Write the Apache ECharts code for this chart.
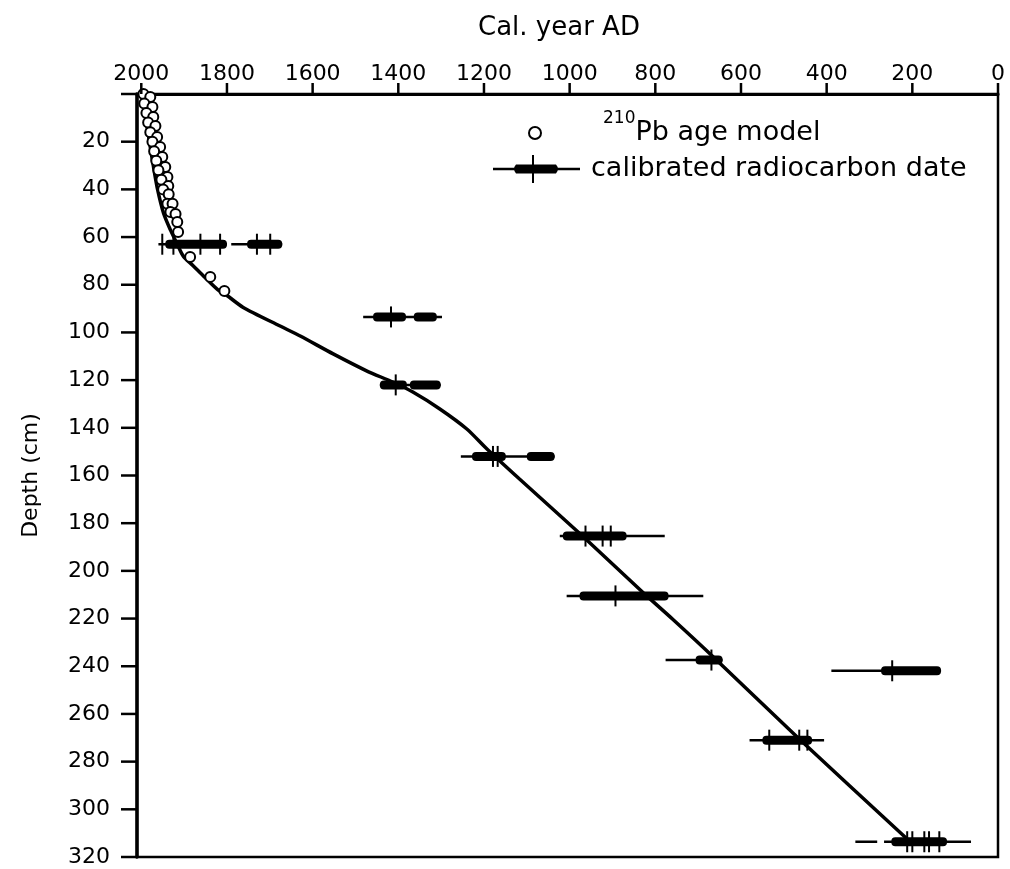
<!DOCTYPE html>
<html>
<head>
<meta charset="utf-8">
<script src="https://cdn.jsdelivr.net/npm/echarts@6/dist/echarts.min.js"></script>
<style>
  html, body { margin: 0; padding: 0; background: #fff; }
  #chart { width: 1010px; height: 869px; }
</style>
</head>
<body>
<div id="chart"></div>
<script>
// Axis tick labels
const yearTicks = [0, 200, 400, 600, 800, 1000, 1200, 1400, 1600, 1800, 2000];
const depthTicks = [20, 40, 60, 80, 100, 120, 140, 160, 180, 200, 220, 240, 260, 280, 300, 320];

// 210Pb age model points (depth in cm, calendar year AD)
const pbDepth = [0, 1.3, 4, 5.5, 8, 9.6, 12, 13.4, 16, 18, 20, 22.2, 24, 26.4, 28, 30.6, 32, 34.8, 36, 38.6, 40, 42, 46, 46, 49.5, 50.3, 53.7, 57.9, 68.4, 76.7, 82.6];
const pbYear  = [1995, 1979, 1993, 1974, 1988, 1972, 1984, 1967, 1979, 1963, 1974, 1956, 1970, 1951, 1965, 1944, 1960, 1939, 1953, 1937, 1949, 1936, 1939, 1927, 1932, 1920, 1916, 1914, 1886, 1839, 1806];

// Age-depth model curve
const modelDepth = [0, 10, 20, 30, 40, 50, 57, 63, 68, 72, 76.3, 81.8, 84.5, 89.5, 97.3, 101.5, 109, 116.2, 120.8, 125, 132.1, 140.5, 148.9, 161.5, 185.4, 210.5, 220.2, 235.7, 270.5, 313.3];
const modelYear  = [1998, 1990, 1981, 1972, 1962, 1948, 1932, 1916, 1902, 1879, 1855, 1823, 1800, 1762, 1676, 1629, 1552, 1473, 1413, 1366, 1303, 1240, 1193, 1117, 970, 820, 760, 667, 464, 207];

// Calibrated radiocarbon dates: sample depth, 2-sigma ranges, 1-sigma ranges, intercepts (cal. year AD)
const c14Depth = [63, 93.5, 122, 152, 185.4, 210.5, 237.4, 241.9, 271, 313.6];
const c14Range2s = [
  [[1960, 1800], [1790, 1671]],
  [[1482, 1298]],
  [[1443, 1301]],
  [[1254, 1035]],
  [[1023, 778]],
  [[1007, 688]],
  [[776, 643]],
  [[389, 133]],
  [[580, 406]],
  [[333, 282], [266, 63]]
];
const c14Range1s = [
  [[1944, 1800], [1753, 1671]],
  [[1459, 1382], [1364, 1310]],
  [[1443, 1380], [1373, 1301]],
  [[1228, 1149], [1100, 1035]],
  [[1016, 867]],
  [[977, 769]],
  [[706, 643]],
  [[273, 133]],
  [[550, 434]],
  [[249, 119]]
];
const c14Intercepts = [
  [1951, 1925, 1862, 1816, 1730, 1699],
  [1417],
  [1406],
  [1179, 1168],
  [963, 923, 904],
  [893],
  [669],
  [247],
  [534, 464, 445],
  [212, 200, 172, 161, 137]
];

const FONT = 'DejaVu Sans';
const PB_NAME = '210Pb age model';
const C14_NAME = 'calibrated radiocarbon date';
const YEAR_MAX = 2010;

const chart = echarts.init(document.getElementById('chart'), null, { renderer: 'canvas' });

function renderDate(params, api) {
  const i = params.dataIndex;
  const d = c14Depth[i];
  const children = [];
  c14Range2s[i].forEach(function (r) {
    const p1 = api.coord([r[0], d]);
    const p2 = api.coord([r[1], d]);
    children.push({
      type: 'line',
      shape: { x1: p1[0], y1: p1[1], x2: p2[0], y2: p2[1] },
      style: { stroke: '#000', lineWidth: 2.5 }
    });
  });
  c14Range1s[i].forEach(function (r) {
    const p1 = api.coord([r[0], d]);
    const p2 = api.coord([r[1], d]);
    const x = Math.min(p1[0], p2[0]);
    const w = Math.abs(p2[0] - p1[0]);
    children.push({
      type: 'rect',
      shape: { x: x, y: p1[1] - 4.5, width: w, height: 9, r: 4 },
      style: { fill: '#000' }
    });
  });
  c14Intercepts[i].forEach(function (t) {
    const p = api.coord([t, d]);
    children.push({
      type: 'line',
      shape: { x1: p[0], y1: p[1] - 10.5, x2: p[0], y2: p[1] + 10.5 },
      style: { stroke: '#000', lineWidth: 2 }
    });
  });
  return { type: 'group', children: children };
}

// Only the listed tick values get a label
function tickLabel(list) {
  return function (v) { return list.indexOf(v) >= 0 ? String(v) : ''; };
}

const option = {
  animation: false,
  backgroundColor: '#fff',
  title: {
    text: 'Cal. year AD',
    left: 478,
    top: 15,
    padding: 0,
    textStyle: { fontFamily: FONT, fontSize: 26, fontWeight: 'normal', color: '#000' }
  },
  legend: [
    {
      left: 528,
      top: 110,
      padding: 0,
      itemWidth: 12,
      itemHeight: 12,
      data: [{
        name: PB_NAME,
        icon: 'circle',
        itemStyle: { color: '#fff', borderColor: '#000', borderWidth: 2 }
      }],
      formatter: function () { return '{gap|}{sup|210}{base|Pb age model}'; },
      textStyle: {
        color: '#000',
        rich: {
          gap: { width: 57, fontSize: 17, lineHeight: 17 },
          sup: { fontFamily: FONT, fontSize: 17, lineHeight: 17, verticalAlign: 'top', color: '#000' },
          base: { fontFamily: FONT, fontSize: 27, lineHeight: 46, verticalAlign: 'middle', color: '#000' }
        }
      }
    },
    {
      left: 493,
      top: 155,
      padding: 0,
      itemWidth: 87,
      itemHeight: 30,
      data: [{
        name: C14_NAME,
        icon: 'path://M0 13.8 L87 13.8 L87 16.2 L0 16.2 Z M23 10.5 L63 10.5 Q67 15 63 19.5 L23 19.5 Q19 15 23 10.5 Z M39 1 L41 1 L41 29 L39 29 Z',
        itemStyle: { color: '#000' }
      }],
      formatter: function (name) { return '{t|' + name + '}'; },
      textStyle: {
        color: '#000',
        rich: {
          t: { fontFamily: FONT, fontSize: 27, padding: [0, 0, 0, 6], color: '#000' }
        }
      }
    }
  ],
  grid: {
    left: 137,
    right: 12,
    top: 94,
    bottom: 12,
    show: true,
    borderColor: '#000',
    borderWidth: 2.5,
    backgroundColor: 'transparent'
  },
  xAxis: {
    type: 'value',
    position: 'top',
    inverse: true,
    min: 0,
    max: YEAR_MAX,
    interval: 200,
    axisLine: { show: true, onZero: false, lineStyle: { color: '#000', width: 3 } },
    axisTick: { show: false },
    axisLabel: { formatter: tickLabel(yearTicks), margin: 9, color: '#000', fontFamily: FONT, fontSize: 22 },
    splitLine: { show: false }
  },
  yAxis: {
    type: 'value',
    position: 'left',
    inverse: true,
    min: 0,
    max: 320,
    interval: 20,
    name: 'Depth (cm)',
    nameLocation: 'middle',
    nameRotate: 90,
    nameGap: 95,
    nameTextStyle: { fontFamily: FONT, fontSize: 22, color: '#000' },
    axisLine: { show: true, onZero: false, lineStyle: { color: '#000', width: 3.5 } },
    axisTick: { show: false },
    axisLabel: { formatter: tickLabel(depthTicks), margin: 27, color: '#000', fontFamily: FONT, fontSize: 22 },
    splitLine: { show: false }
  },
  series: [
    {
      name: 'age-depth model',
      type: 'line',
      data: modelYear.map(function (y, i) { return [y, modelDepth[i]]; }),
      showSymbol: false,
      smooth: 0.25,
      lineStyle: { color: '#000', width: 3.5 },
      z: 2
    },
    {
      name: PB_NAME,
      type: 'scatter',
      data: pbYear.map(function (y, i) { return [y, pbDepth[i]]; }),
      symbol: 'circle',
      symbolSize: 10,
      itemStyle: { color: '#fff', borderColor: '#000', borderWidth: 2, opacity: 1 },
      clip: false,
      z: 3
    },
    {
      name: C14_NAME,
      type: 'custom',
      renderItem: renderDate,
      data: c14Depth.map(function (d, i) { return [c14Intercepts[i][0], d]; }),
      encode: { x: 0, y: 1 },
      clip: false,
      z: 4
    }
  ]
};

chart.setOption(option);

// Outward tick marks, placed through the axes' own scales
const tickMarks = [];
yearTicks.forEach(function (t) {
  const p = chart.convertToPixel({ gridIndex: 0 }, [t, 0]);
  tickMarks.push({
    type: 'line',
    silent: true,
    z: 100,
    shape: { x1: p[0], y1: p[1], x2: p[0], y2: p[1] - 11 },
    style: { stroke: '#000', lineWidth: 2.5 }
  });
});
[0].concat(depthTicks).forEach(function (d) {
  const p = chart.convertToPixel({ gridIndex: 0 }, [YEAR_MAX, d]);
  tickMarks.push({
    type: 'line',
    silent: true,
    z: 100,
    shape: { x1: p[0], y1: p[1], x2: p[0] - 16, y2: p[1] },
    style: { stroke: '#000', lineWidth: 2.5 }
  });
});
chart.setOption({ graphic: { elements: tickMarks } });
</script>
</body>
</html>
